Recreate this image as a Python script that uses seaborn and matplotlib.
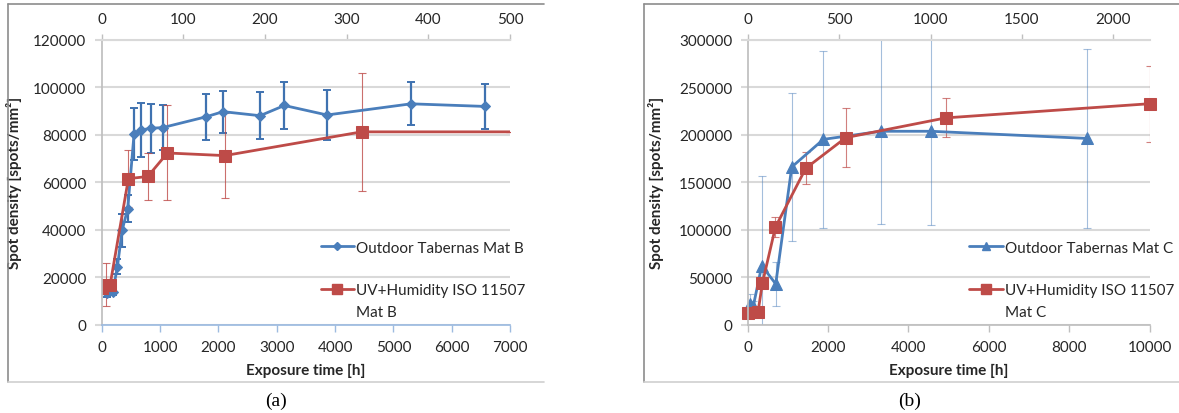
import numpy as np
import pandas as pd
import matplotlib
matplotlib.use("Agg")
import matplotlib.pyplot as plt
import seaborn as sns
from matplotlib.lines import Line2D

BLUE = "#4a7ebb"
RED = "#be4b48"
GRID = "#d9d9d9"
AXGRAY = "#bfbfbf"

# (a) Mat B
out_b_h = [86, 189, 269, 349, 446, 554, 680, 840, 1046, 1783, 2080, 2714, 3131, 3862, 5302, 6574]
out_b_y = [13200, 13800, 24500, 39700, 48900, 80300, 82000, 82700, 83000, 87500, 89700, 88000, 92300, 88300, 93000, 91900]
out_b_err = [1500, 1500, 3000, 6800, 5800, 10800, 11500, 10300, 9500, 9700, 8800, 10000, 9800, 10700, 9100, 9300]
uv_b_h = [0, 74, 143, 457, 789, 1126, 2109, 4456, 7000]
uv_b_y = [15500, 16900, 16700, 61500, 62400, 72300, 71200, 81200, 81200]
uv_b_err = [0, 9000, 0, 12000, 9800, 20000, 18000, 24700, 0]

# (b) Mat C
out_c_h = [58, 141, 349, 697, 1096, 1884, 3312, 4565, 8433]
out_c_y = [21800, 20000, 62200, 42900, 166000, 195100, 203600, 203600, 196100]
out_c_err = [10000, 5000, 94600, 22800, 78000, 93500, 98000, 98500, 93800]
uv_c_h = [17, 257, 365, 689, 1444, 2440, 4930, 10000]
uv_c_y = [12300, 13700, 43600, 102700, 164600, 196900, 217700, 232600]
uv_c_err = [3000, 3000, 5000, 10700, 17000, 31000, 20600, 40000]

sns.set_theme(style="white")
plt.rcParams['font.family'] = ['Lato', 'DejaVu Sans']

fig = plt.figure(figsize=(11.79, 4.14), dpi=100)
ax_a = fig.add_axes([0.0863, 0.2133, 0.3463, 0.6884])
ax_b = fig.add_axes([0.6342, 0.2133, 0.3408, 0.6884])


def style_axes(ax, xmax, xstep, ymax, ystep, ratio, top_ticks, bottom_color):
    ax.set_xlim(0, xmax)
    ax.set_ylim(0, ymax)
    ax.set_xticks(np.arange(0, xmax + 1, xstep))
    ax.set_yticks(np.arange(0, ymax + 1, ystep))
    ax.set_xticklabels([str(int(v)) for v in np.arange(0, xmax + 1, xstep)])
    ax.set_yticklabels([str(int(v)) for v in np.arange(0, ymax + 1, ystep)])
    ax.grid(axis='y', color=GRID, lw=1.5)
    ax.grid(axis='x', visible=False)
    ax.set_axisbelow(True)
    ax.spines['right'].set_visible(False)
    ax.spines['top'].set_color(GRID)
    ax.spines['top'].set_linewidth(1.5)
    ax.spines['left'].set_color(AXGRAY)
    ax.spines['bottom'].set_color(bottom_color)
    ax.tick_params(axis='x', colors=bottom_color, length=5, width=1, pad=6,
                   labelcolor='#262626', labelsize=11, bottom=True)
    ax.tick_params(axis='y', colors=GRID, length=5, width=1.5, pad=6,
                   labelcolor='#262626', labelsize=11, left=True)
    sec = ax.secondary_xaxis('top', functions=(lambda h: h / ratio, lambda d: d * ratio))
    sec.set_xticks(top_ticks)
    sec.set_xticklabels([str(t) for t in top_ticks])
    sec.spines['top'].set_visible(False)
    sec.tick_params(axis='x', colors=AXGRAY, length=4, width=1, pad=6,
                    labelcolor='#262626', labelsize=11)
    ax.set_xlabel("Exposure time [h]", fontweight='bold', fontsize=11, color='#262626')
    ax.set_ylabel("Spot density [spots/mm²]", fontweight='bold', fontsize=11, color='#262626')


# panel (a)
ax_a.errorbar(out_b_h, out_b_y, yerr=out_b_err, fmt='none', ecolor="#3f72b0", elinewidth=1.6, capsize=3, capthick=1.4)
ax_a.errorbar(uv_b_h, uv_b_y, yerr=uv_b_err, fmt='none', ecolor=RED, elinewidth=0.8, capsize=3, capthick=0.8, alpha=0.8)
sns.lineplot(x=out_b_h, y=out_b_y, ax=ax_a, color=BLUE, marker='D', markersize=5, lw=2,
             markeredgecolor=BLUE, estimator=None, sort=False)
sns.lineplot(x=uv_b_h, y=uv_b_y, ax=ax_a, color=RED, marker='s', markersize=9, lw=2,
             markeredgecolor=RED, estimator=None, sort=False, markevery=list(range(len(uv_b_h) - 1)))
style_axes(ax_a, 7000, 1000, 120000, 20000, 14, [0, 100, 200, 300, 400, 500], "#9dbbe0")

# panel (b)
ax_b.errorbar(out_c_h, out_c_y, yerr=out_c_err, fmt='none', ecolor=BLUE, elinewidth=0.8, capsize=3, capthick=0.8, alpha=0.5)
ax_b.errorbar(uv_c_h, uv_c_y, yerr=uv_c_err, fmt='none', ecolor=RED, elinewidth=0.8, capsize=3, capthick=0.8, alpha=0.7)
sns.lineplot(x=out_c_h, y=out_c_y, ax=ax_b, color=BLUE, marker='^', markersize=8, lw=2,
             markeredgecolor=BLUE, estimator=None, sort=False, clip_on=False)
sns.lineplot(x=uv_c_h, y=uv_c_y, ax=ax_b, color=RED, marker='s', markersize=8, lw=2,
             markeredgecolor=RED, estimator=None, sort=False, clip_on=False)
style_axes(ax_b, 10000, 2000, 300000, 50000, 4.55, [0, 500, 1000, 1500, 2000], AXGRAY)

ax_a.yaxis.set_label_coords(-0.195, 0.5)
ax_b.yaxis.set_label_coords(-0.209, 0.5)
ax_a.xaxis.set_label_coords(0.5, -0.135)
ax_b.xaxis.set_label_coords(0.5, -0.135)


def add_legend(ax, marker_out, ms_out, mat, anchor):
    handles = [Line2D([], [], color=BLUE, marker=marker_out, markersize=ms_out, lw=2),
               Line2D([], [], color=RED, marker='s', markersize=7, lw=2)]
    leg = ax.legend(handles, ["Outdoor Tabernas " + mat, "UV+Humidity ISO 11507"],
                    loc='upper left', bbox_to_anchor=anchor, frameon=False, fontsize=11,
                    handlelength=2.2, handletextpad=0.15, labelspacing=1.85,
                    borderaxespad=0, borderpad=0)
    for t in leg.get_texts():
        t.set_color('#262626')
    ax.annotate(mat, xy=(0, 0), xycoords=leg.get_texts()[1], xytext=(0, -6),
                textcoords='offset points', va='top', ha='left', fontsize=11,
                color='#262626', zorder=10, annotation_clip=False)


add_legend(ax_a, 'D', 4, "Mat B", (0.536, 0.295))
add_legend(ax_b, '^', 6, "Mat C", (0.551, 0.295))

# outer frames
for x0, x1 in [(8.3, 544), (644.3, 1179)]:
    fig.add_artist(Line2D([x0 / 1179, x0 / 1179], [1 - 5.3 / 414, 1 - 382.7 / 414],
                          transform=fig.transFigure, color='#8c8c8c', lw=1.2))
    fig.add_artist(Line2D([x0 / 1179, x1 / 1179], [1 - 5.3 / 414, 1 - 5.3 / 414],
                          transform=fig.transFigure, color='#8c8c8c', lw=1.2))
    fig.add_artist(Line2D([x0 / 1179, x1 / 1179], [1 - 382.7 / 414, 1 - 382.7 / 414],
                          transform=fig.transFigure, color='#d0d0d0', lw=1.2))

fig.text(276 / 1179, 1 - 401.7 / 414, "(a)", ha='center', va='center', fontsize=14,
         family='Liberation Serif', color='black')
fig.text(910 / 1179, 1 - 401.7 / 414, "(b)", ha='center', va='center', fontsize=14,
         family='Liberation Serif', color='black')

fig.savefig("out.png", dpi=100)
